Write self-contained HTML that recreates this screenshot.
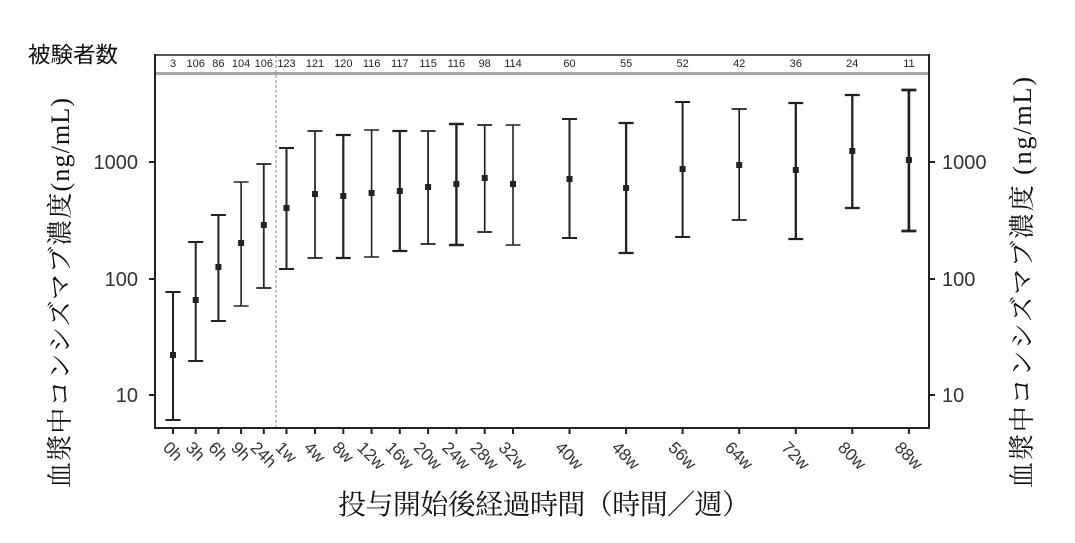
<!DOCTYPE html>
<html><head><meta charset="utf-8"><style>
html,body{margin:0;padding:0;background:#fff;}
svg{display:block;}
.tk{font-family:"Liberation Sans",sans-serif;font-size:17px;fill:#333;}
.yl{font-family:"Liberation Sans",sans-serif;font-size:20px;fill:#333;}
.ct{font-family:"Liberation Sans",sans-serif;font-size:11px;fill:#222;}
.jp{font-family:"Liberation Serif","Noto Serif CJK SC",serif;fill:#111;}
</style></head><body>
<svg width="1075" height="543" viewBox="0 0 1075 543" xmlns="http://www.w3.org/2000/svg">
<rect width="1075" height="543" fill="#fff"/>
<text x="28" y="62.5" font-size="22" textLength="90" lengthAdjust="spacingAndGlyphs" style="font-family:'Liberation Sans','Noto Sans CJK JP',sans-serif;fill:#111;">被験者数</text>
<line x1="155" y1="55" x2="929" y2="55" stroke="#555" stroke-width="2"/>
<line x1="155" y1="73.5" x2="929" y2="73.5" stroke="#a8a8a8" stroke-width="3"/>
<g class="ct" text-anchor="middle">
<text x="173" y="67">3</text><text x="195.7" y="67">106</text><text x="218.4" y="67">86</text><text x="241.1" y="67">104</text><text x="263.8" y="67">106</text>
<text x="286.5" y="67">123</text><text x="315" y="67">121</text><text x="343.3" y="67">120</text><text x="371.6" y="67">116</text><text x="399.8" y="67">117</text>
<text x="428.1" y="67">115</text><text x="456.4" y="67">116</text><text x="484.7" y="67">98</text><text x="513" y="67">114</text><text x="569.5" y="67">60</text>
<text x="626.1" y="67">55</text><text x="682.6" y="67">52</text><text x="739.2" y="67">42</text><text x="795.8" y="67">36</text><text x="852.3" y="67">24</text><text x="908.9" y="67">11</text>
</g>
<line x1="276" y1="55" x2="276" y2="428" stroke="#888" stroke-width="1" stroke-dasharray="3,2"/>
<line x1="155" y1="54" x2="155" y2="429" stroke="#222" stroke-width="2"/>
<line x1="929" y1="54" x2="929" y2="429" stroke="#222" stroke-width="2"/>
<line x1="154" y1="428" x2="930" y2="428" stroke="#222" stroke-width="2"/>
<g stroke="#222" stroke-width="2">
<line x1="149" y1="162" x2="155" y2="162"/><line x1="149" y1="279" x2="155" y2="279"/><line x1="149" y1="395" x2="155" y2="395"/>
<line x1="929" y1="162" x2="935" y2="162"/><line x1="929" y1="279" x2="935" y2="279"/><line x1="929" y1="395" x2="935" y2="395"/>
</g>
<g class="yl" text-anchor="end">
<text x="138" y="169">1000</text><text x="138" y="286">100</text><text x="138" y="402">10</text>
</g>
<g class="yl" text-anchor="start">
<text x="942" y="169">1000</text><text x="942" y="286">100</text><text x="942" y="402">10</text>
</g>
<g stroke="#222" stroke-width="2">
<line x1="173" y1="428" x2="173" y2="434"/><line x1="195.7" y1="428" x2="195.7" y2="434"/><line x1="218.4" y1="428" x2="218.4" y2="434"/>
<line x1="241.1" y1="428" x2="241.1" y2="434"/><line x1="263.8" y1="428" x2="263.8" y2="434"/><line x1="286.5" y1="428" x2="286.5" y2="434"/>
<line x1="315" y1="428" x2="315" y2="434"/><line x1="343.3" y1="428" x2="343.3" y2="434"/><line x1="371.6" y1="428" x2="371.6" y2="434"/>
<line x1="399.8" y1="428" x2="399.8" y2="434"/><line x1="428.1" y1="428" x2="428.1" y2="434"/><line x1="456.4" y1="428" x2="456.4" y2="434"/>
<line x1="484.7" y1="428" x2="484.7" y2="434"/><line x1="513" y1="428" x2="513" y2="434"/><line x1="569.5" y1="428" x2="569.5" y2="434"/>
<line x1="626.1" y1="428" x2="626.1" y2="434"/><line x1="682.6" y1="428" x2="682.6" y2="434"/><line x1="739.2" y1="428" x2="739.2" y2="434"/>
<line x1="795.8" y1="428" x2="795.8" y2="434"/><line x1="852.3" y1="428" x2="852.3" y2="434"/><line x1="908.9" y1="428" x2="908.9" y2="434"/>
</g>
<g class="tk" text-anchor="middle">
<text transform="translate(168.7,455.3) rotate(45)">0h</text>
<text transform="translate(191.4,455.3) rotate(45)">3h</text>
<text transform="translate(214.1,455.3) rotate(45)">6h</text>
<text transform="translate(236.8,455.3) rotate(45)">9h</text>
<text transform="translate(259.5,458.6) rotate(45)">24h</text>
<text transform="translate(282.2,456.3) rotate(45)">1w</text>
<text transform="translate(310.7,456.3) rotate(45)">4w</text>
<text transform="translate(339,456.3) rotate(45)">8w</text>
<text transform="translate(367.3,459.6) rotate(45)">12w</text>
<text transform="translate(395.5,459.6) rotate(45)">16w</text>
<text transform="translate(423.8,459.6) rotate(45)">20w</text>
<text transform="translate(452.1,459.6) rotate(45)">24w</text>
<text transform="translate(480.4,459.6) rotate(45)">28w</text>
<text transform="translate(508.7,459.6) rotate(45)">32w</text>
<text transform="translate(565.2,459.6) rotate(45)">40w</text>
<text transform="translate(621.8,459.6) rotate(45)">48w</text>
<text transform="translate(678.3,459.6) rotate(45)">56w</text>
<text transform="translate(734.9,459.6) rotate(45)">64w</text>
<text transform="translate(791.5,459.6) rotate(45)">72w</text>
<text transform="translate(848,459.6) rotate(45)">80w</text>
<text transform="translate(904.6,459.6) rotate(45)">88w</text>
</g>
<g stroke="#222" stroke-width="2" fill="none">
<path d="M173,292V420M165.5,292H180.5M165.5,420H180.5"/>
<path d="M195.7,242V361M188.2,242H203.2M188.2,361H203.2"/>
<path d="M218.4,215V321M210.9,215H225.9M210.9,321H225.9"/>
<path d="M241.1,182V306M233.6,182H248.6M233.6,306H248.6" stroke-width="1.6"/>
<path d="M263.8,164V288M256.3,164H271.3M256.3,288H271.3" stroke-width="1.8"/>
<path d="M286.5,148V269M279,148H294M279,269H294"/>
<path d="M315,131V258M307.5,131H322.5M307.5,258H322.5" stroke-width="1.7"/>
<path d="M343.3,135V258M335.8,135H350.8M335.8,258H350.8" stroke-width="2.2"/>
<path d="M371.6,130V257M364.1,130H379.1M364.1,257H379.1" stroke-width="1.6"/>
<path d="M399.8,131V251M392.3,131H407.3M392.3,251H407.3" stroke-width="2.2"/>
<path d="M428.1,131V244M420.6,131H435.6M420.6,244H435.6" stroke-width="1.8"/>
<path d="M456.4,124V245M448.9,124H463.9M448.9,245H463.9" stroke-width="2.4"/>
<path d="M484.7,125V232M477.2,125H492.2M477.2,232H492.2" stroke-width="1.7"/>
<path d="M513,125V245M505.5,125H520.5M505.5,245H520.5" stroke-width="1.6"/>
<path d="M569.5,119V238M562,119H577M562,238H577" stroke-width="2"/>
<path d="M626.1,123V253M618.6,123H633.6M618.6,253H633.6" stroke-width="2.3"/>
<path d="M682.6,102V237M675.1,102H690.1M675.1,237H690.1" stroke-width="2"/>
<path d="M739.2,109V220M731.7,109H746.7M731.7,220H746.7" stroke-width="1.7"/>
<path d="M795.8,103V239M788.3,103H803.3M788.3,239H803.3" stroke-width="2.3"/>
<path d="M852.3,95V208M844.8,95H859.8M844.8,208H859.8" stroke-width="2.3"/>
<path d="M908.9,90V231M901.4,90H916.4M901.4,231H916.4" stroke-width="2.7"/>
</g>
<g fill="#222">
<rect x="170" y="352" width="6" height="6"/>
<rect x="192.7" y="297" width="6" height="6"/>
<rect x="215.4" y="264" width="6" height="6"/>
<rect x="238.1" y="240" width="6" height="6"/>
<rect x="260.8" y="222" width="6" height="6"/>
<rect x="283.5" y="205" width="6" height="6"/>
<rect x="312" y="191" width="6" height="6"/>
<rect x="340.3" y="193" width="6" height="6"/>
<rect x="368.6" y="190" width="6" height="6"/>
<rect x="396.8" y="188" width="6" height="6"/>
<rect x="425.1" y="184" width="6" height="6"/>
<rect x="453.4" y="181" width="6" height="6"/>
<rect x="481.7" y="175" width="6" height="6"/>
<rect x="510" y="181" width="6" height="6"/>
<rect x="566.5" y="176" width="6" height="6"/>
<rect x="623.1" y="185" width="6" height="6"/>
<rect x="679.6" y="166" width="6" height="6"/>
<rect x="736.2" y="162" width="6" height="6"/>
<rect x="792.8" y="167" width="6" height="6"/>
<rect x="849.3" y="148" width="6" height="6"/>
<rect x="905.9" y="157" width="6" height="6"/>
</g>
<text class="jp" x="338" y="514" font-size="28" textLength="412" lengthAdjust="spacing">投与開始後経過時間（時間／週）</text>
<text class="jp" font-size="26" text-anchor="middle" textLength="390" lengthAdjust="spacing" transform="translate(69,293) rotate(-90)">血漿中コンシズマブ濃度(ng/mL)</text>
<text class="jp" font-size="26" text-anchor="middle" textLength="411" lengthAdjust="spacing" transform="translate(1031,282.5) rotate(-90)">血漿中コンシズマブ濃度 (ng/mL)</text>
</svg>
</body></html>
